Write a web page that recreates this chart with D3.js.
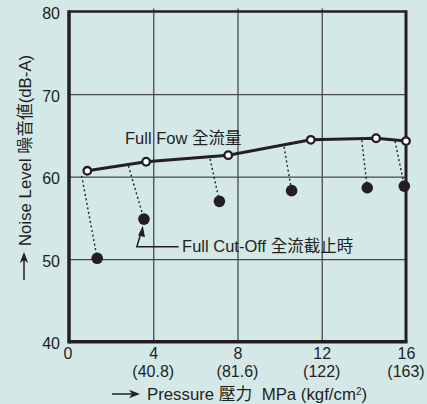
<!DOCTYPE html>
<html>
<head>
<meta charset="utf-8">
<script src="https://cdn.jsdelivr.net/npm/d3@7"></script>
<style>
  body { margin: 0; background: #d5e8e8; }
  svg { display: block; }
  text { font-family: "Liberation Sans", Arial, "Noto Sans CJK TC", sans-serif; fill: #231f20; }
</style>
</head>
<body>
<svg id="chart"></svg>
<script>
// data
let pressureTicks = [0, 4, 8, 12, 16]
let kgfLabels = ['', '(40.8)', '(81.6)', '(122)', '(163)']
let noiseTicks = [40, 50, 60, 70, 80]

let fullFlowPressure = [0.87, 3.66, 7.56, 11.48, 14.58, 16.0]
let fullFlowNoise = [60.7, 61.8, 62.6, 64.45, 64.65, 64.3]

let cutOffPressure = [1.34, 3.56, 7.14, 10.57, 14.16, 15.92]
let cutOffNoise = [50.1, 54.85, 57.0, 58.3, 58.65, 58.85]

// where each dotted drop line leaves the full flow curve
let dropPressure = [0.6, 2.82, 6.7, 10.21, 13.9, 15.48]
let dropNoise = [60.1, 61.3, 62.15, 63.6, 64.4, 64.3]

let width = 427
let height = 404
let ink = '#231f20'

let svg = d3.select('#chart').attr('width', width).attr('height', height)

let xScale = d3.scaleLinear().domain([0, 16]).range([69, 406])
let yScale = d3.scaleLinear().domain([40, 80]).range([341.7, 11.5])

let fullFlow = fullFlowPressure.map((p, i) => ({ p: p, n: fullFlowNoise[i] }))
let cutOff = cutOffPressure.map((p, i) => ({ p: p, n: cutOffNoise[i] }))
let drops = dropPressure.map((p, i) => ({ p: p, n: dropNoise[i], p2: cutOffPressure[i], n2: cutOffNoise[i] }))

let x0 = xScale(0), x1 = xScale(16)
let y0 = yScale(40), y1 = yScale(80)

// grid
let xGrid = d3.axisBottom(xScale).tickValues([4, 8, 12]).tickSize(-(y0 - y1) - 3).tickFormat('')
svg.append('g').attr('transform', 'translate(0,' + y0 + ')').call(xGrid)
  .call(g => g.select('.domain').remove())
  .call(g => g.selectAll('line').attr('stroke', '#4a4a4a').attr('stroke-width', 1.3))

let yGrid = d3.axisLeft(yScale).tickValues([50, 60, 70]).tickSize(-(x1 - x0)).tickFormat('')
svg.append('g').attr('transform', 'translate(' + x0 + ',0)').call(yGrid)
  .call(g => g.select('.domain').remove())
  .call(g => g.selectAll('line').attr('stroke', '#4a4a4a').attr('stroke-width', 1.3))

// frame
svg.append('line').attr('x1', x0).attr('x2', x1).attr('y1', y1).attr('y2', y1)
  .attr('stroke', ink).attr('stroke-width', 2.5)
svg.append('line').attr('x1', x1).attr('x2', x1).attr('y1', y1 - 1.2).attr('y2', y0)
  .attr('stroke', ink).attr('stroke-width', 3)
svg.append('line').attr('x1', x0).attr('x2', x0).attr('y1', y1 - 1.2).attr('y2', y0 + 1.7)
  .attr('stroke', ink).attr('stroke-width', 3.5)
svg.append('line').attr('x1', x0).attr('x2', x1 + 1.5).attr('y1', y0).attr('y2', y0)
  .attr('stroke', ink).attr('stroke-width', 3.5)

// tick labels
let yAxis = d3.axisLeft(yScale).tickValues(noiseTicks).tickSize(0).tickPadding(9)
svg.append('g').attr('transform', 'translate(' + x0 + ',0)').call(yAxis)
  .call(g => g.select('.domain').remove())
  .call(g => g.selectAll('text').attr('font-size', 16).attr('dy', '0.45em')
    .attr('font-family', '"Liberation Sans", Arial, sans-serif').attr('fill', ink))

let xAxis = d3.axisBottom(xScale).tickValues(pressureTicks).tickSize(0).tickPadding(6)
svg.append('g').attr('transform', 'translate(0,' + y0 + ')').call(xAxis)
  .call(g => g.select('.domain').remove())
  .call(g => g.selectAll('text').attr('font-size', 16).attr('dy', '0.72em')
    .attr('font-family', '"Liberation Sans", Arial, sans-serif').attr('fill', ink))
  .call(g => g.selectAll('.tick').filter(d => d === 0).select('text').attr('dx', -1.5))

svg.append('g').selectAll('text').data(pressureTicks.slice(1)).enter().append('text')
  .attr('x', d => xScale(d))
  .attr('y', 377)
  .attr('text-anchor', 'middle')
  .attr('font-size', 16)
  .text((d, i) => kgfLabels[i + 1])

// dotted drop lines
svg.append('g').selectAll('line').data(drops).enter().append('line')
  .attr('x1', d => xScale(d.p)).attr('y1', d => yScale(d.n))
  .attr('x2', d => xScale(d.p2)).attr('y2', d => yScale(d.n2))
  .attr('stroke', ink).attr('stroke-width', 1.4).attr('stroke-dasharray', '2,2.6')

// full flow line
let line = d3.line().x(d => xScale(d.p)).y(d => yScale(d.n))
svg.append('path').datum(fullFlow).attr('d', line)
  .attr('fill', 'none').attr('stroke', ink).attr('stroke-width', 3)

svg.append('g').selectAll('circle').data(fullFlow).enter().append('circle')
  .attr('cx', d => xScale(d.p)).attr('cy', d => yScale(d.n)).attr('r', 3.8)
  .attr('fill', '#fff').attr('stroke', ink).attr('stroke-width', 2.3)

// cut-off points
svg.append('g').selectAll('circle').data(cutOff).enter().append('circle')
  .attr('cx', d => xScale(d.p)).attr('cy', d => yScale(d.n)).attr('r', 5.8)
  .attr('fill', ink)

// annotations
svg.append('text').attr('x', xScale(2.66)).attr('y', yScale(63.96))
  .attr('font-size', 16.5).text('Full Fow 全流量')

let cx = xScale(3.22), cy = yScale(51.5)
svg.append('path')
  .attr('d', 'M' + xScale(5.2) + ',' + cy + 'H' + cx + 'L' + (cx + 4.5) + ',' + (cy - 15))
  .attr('fill', 'none').attr('stroke', ink).attr('stroke-width', 1.5)
svg.append('path')
  .attr('d', 'M' + (cx + 6) + ',' + (cy - 21) + 'L' + (cx + 1.3) + ',' + (cy - 11.5) + 'L' + (cx + 8.2) + ',' + (cy - 9.5) + 'Z')
  .attr('fill', ink)
svg.append('text').attr('x', xScale(5.37)).attr('y', yScale(50.9))
  .attr('font-size', 16.5).text('Full Cut-Off 全流截止時')

// axis titles
let arrow = (g, len) => {
  g.append('line').attr('x1', 0).attr('x2', len - 8).attr('y1', 0).attr('y2', 0)
    .attr('stroke', ink).attr('stroke-width', 1.5)
  g.append('path').attr('d', 'M' + len + ',0L' + (len - 11) + ',-4.2L' + (len - 8) + ',0L' + (len - 11) + ',4.2Z')
    .attr('fill', ink)
}

let xt = svg.append('g').attr('transform', 'translate(112,394)')
arrow(xt, 28)
let xTitle = svg.append('text').attr('x', 147).attr('y', 400).attr('font-size', 16.8)
  .style('white-space', 'pre')
xTitle.append('tspan').text('Pressure 壓力  MPa (kgf/cm')
xTitle.append('tspan').attr('font-size', 10).attr('dy', -5).text('2')
xTitle.append('tspan').attr('dy', 5).text(')')

let yt = svg.append('g').attr('transform', 'translate(24,280) rotate(-90)')
arrow(yt, 28)
svg.append('text').attr('transform', 'translate(30.5,246) rotate(-90)')
  .attr('font-size', 16.8).text('Noise Level 噪音値(dB-A)')
</script>
</body>
</html>
